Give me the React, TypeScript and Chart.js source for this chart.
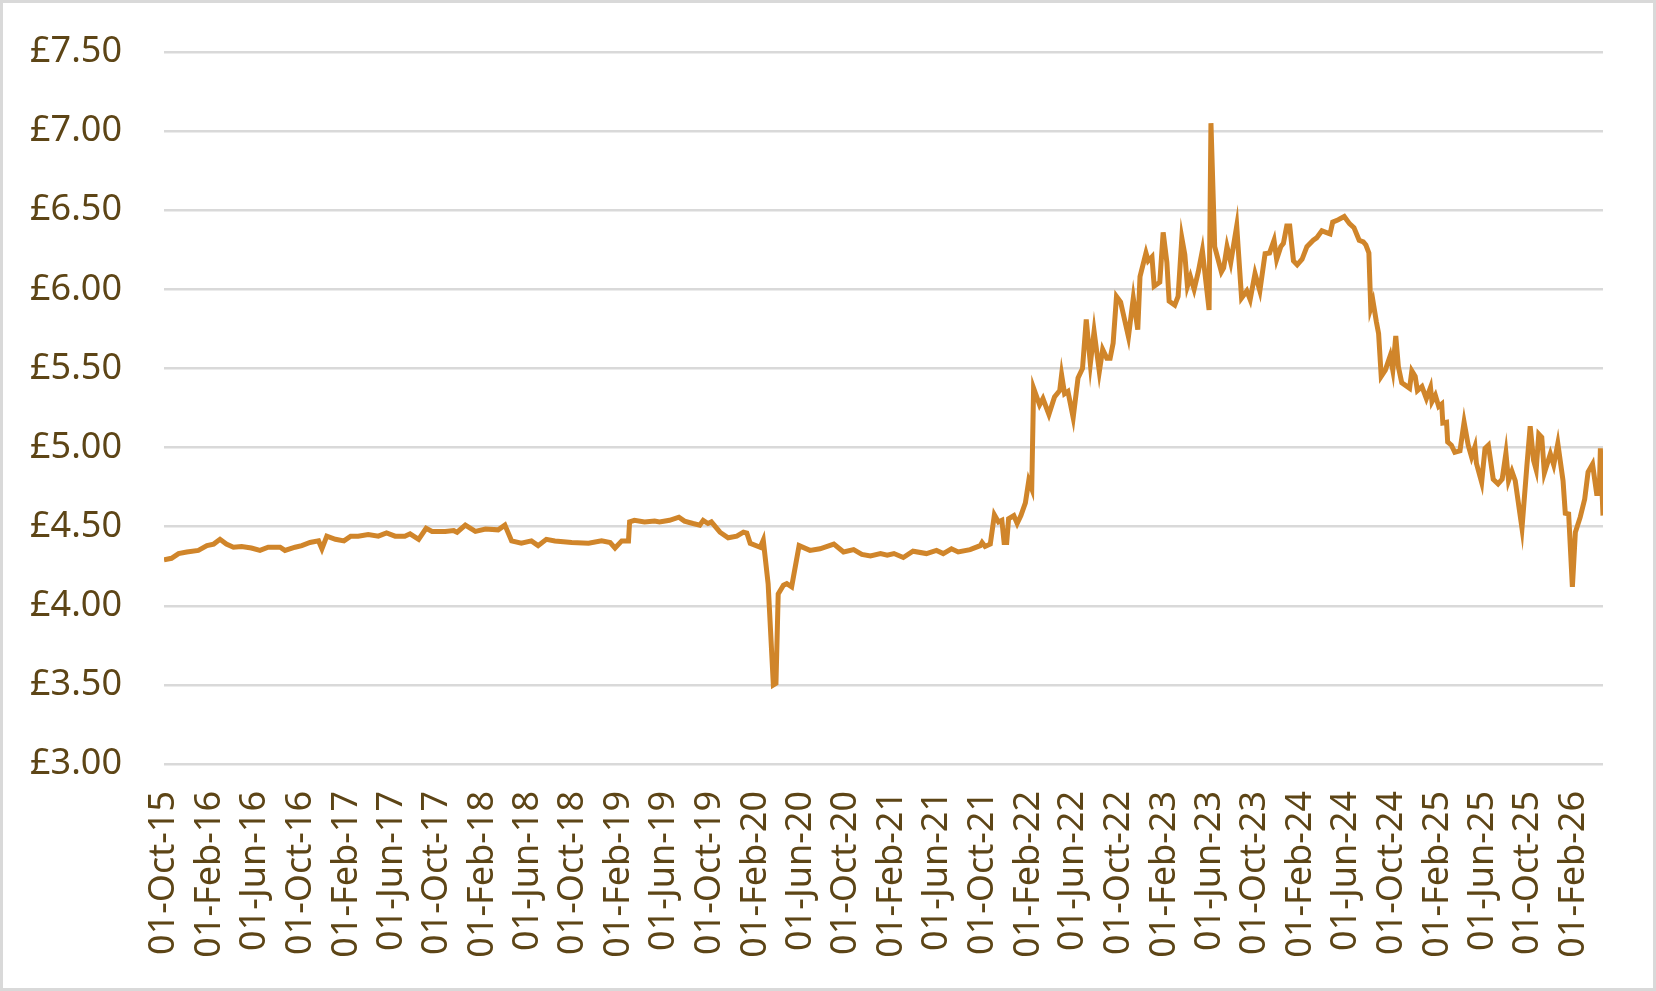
import React, { useEffect, useRef } from "react";
import Chart from "chart.js/auto";

// weekly-ish price readings (date, £)
const dates = [
  "2015-10-01", "2015-10-21", "2015-11-09", "2015-12-01",
  "2016-01-01", "2016-01-24", "2016-02-11", "2016-02-28", "2016-03-16", "2016-04-04", "2016-04-26", "2016-05-22", "2016-06-14",
  "2016-07-06", "2016-08-07", "2016-08-20", "2016-09-16", "2016-10-04", "2016-10-26", "2016-11-18", "2016-11-27", "2016-12-10",
  "2017-01-02", "2017-01-25", "2017-02-12", "2017-03-04", "2017-03-31", "2017-04-27", "2017-05-19", "2017-06-11", "2017-07-07",
  "2017-07-21", "2017-08-13", "2017-09-02", "2017-09-18", "2017-10-23", "2017-11-15", "2017-11-24", "2017-12-16",
  "2018-01-12", "2018-02-08", "2018-03-14", "2018-04-01", "2018-04-19", "2018-05-15", "2018-06-11", "2018-06-29", "2018-07-21",
  "2018-08-13", "2018-09-27", "2018-11-11", "2018-12-16",
  "2019-01-08", "2019-01-21", "2019-02-08", "2019-02-26", "2019-03-01", "2019-03-14", "2019-04-10", "2019-05-07", "2019-05-20",
  "2019-06-16", "2019-07-11", "2019-07-26", "2019-08-18", "2019-09-05", "2019-09-14", "2019-09-27", "2019-10-06", "2019-10-29",
  "2019-11-20", "2019-12-13", "2019-12-31",
  "2020-01-09", "2020-01-18", "2020-02-14", "2020-02-22", "2020-03-06", "2020-03-20", "2020-03-27", "2020-04-02", "2020-04-16",
  "2020-04-25", "2020-05-08", "2020-05-28", "2020-06-26", "2020-07-23", "2020-08-29", "2020-09-24", "2020-10-21", "2020-11-12",
  "2020-12-05",
  "2021-01-01", "2021-01-19", "2021-02-06", "2021-03-03", "2021-03-29", "2021-05-04", "2021-05-31", "2021-06-18", "2021-07-10",
  "2021-07-28", "2021-08-29", "2021-09-25", "2021-09-30", "2021-10-08", "2021-10-22", "2021-11-02", "2021-11-13", "2021-11-22",
  "2021-11-28", "2021-12-05", "2021-12-10", "2021-12-24",
  "2022-01-02", "2022-01-12", "2022-01-24", "2022-02-02", "2022-02-10", "2022-02-15", "2022-03-03", "2022-03-12", "2022-03-28",
  "2022-04-12", "2022-04-26", "2022-05-01", "2022-05-09", "2022-05-18", "2022-06-01", "2022-06-14", "2022-06-26", "2022-07-06",
  "2022-07-17", "2022-07-27", "2022-08-10", "2022-08-19", "2022-08-30", "2022-09-08", "2022-09-16", "2022-09-25", "2022-10-06",
  "2022-10-27", "2022-11-09", "2022-11-21", "2022-11-27", "2022-12-13", "2022-12-19", "2022-12-29",
  "2023-01-04", "2023-01-19", "2023-01-28", "2023-02-07", "2023-02-13", "2023-02-28", "2023-03-09", "2023-03-19", "2023-03-27",
  "2023-04-03", "2023-04-11", "2023-04-21", "2023-05-02", "2023-05-13", "2023-05-31", "2023-06-05", "2023-06-15", "2023-07-03",
  "2023-07-09", "2023-07-18", "2023-07-28", "2023-08-13", "2023-08-26", "2023-09-09", "2023-09-18", "2023-10-01", "2023-10-14",
  "2023-10-28", "2023-11-09", "2023-11-21", "2023-11-28", "2023-12-09", "2023-12-16", "2023-12-25",
  "2024-01-02", "2024-01-12", "2024-01-22", "2024-02-04", "2024-02-17", "2024-03-05", "2024-03-14", "2024-03-28", "2024-04-08",
  "2024-04-19", "2024-04-26", "2024-05-11", "2024-05-27", "2024-06-10", "2024-06-22", "2024-07-06", "2024-07-17", "2024-07-24",
  "2024-08-01", "2024-08-06", "2024-08-12", "2024-08-21", "2024-08-27", "2024-09-03", "2024-09-14", "2024-09-27", "2024-10-04",
  "2024-10-12", "2024-10-19", "2024-10-28", "2024-11-09", "2024-11-18", "2024-11-24", "2024-12-03", "2024-12-09", "2024-12-21",
  "2025-01-02", "2025-01-13", "2025-01-17", "2025-01-26", "2025-02-04", "2025-02-12", "2025-02-15", "2025-02-25", "2025-02-28",
  "2025-03-10", "2025-03-19", "2025-04-02", "2025-04-13", "2025-04-24", "2025-05-03", "2025-05-12", "2025-05-16", "2025-05-30",
  "2025-06-08", "2025-06-17", "2025-06-30", "2025-07-13", "2025-07-24", "2025-08-03", "2025-08-10", "2025-08-19", "2025-08-28",
  "2025-09-15", "2025-09-28", "2025-10-07", "2025-10-16", "2025-10-23", "2025-10-30", "2025-11-07", "2025-11-14", "2025-11-30",
  "2025-12-09", "2025-12-20",
  "2026-01-03", "2026-01-09", "2026-01-18", "2026-01-28", "2026-02-05", "2026-02-18", "2026-03-02", "2026-03-11", "2026-03-23",
  "2026-04-03", "2026-04-10", "2026-04-13", "2026-04-20",
];

const prices = [
  4.29, 4.30, 4.33, 4.34,
  4.35, 4.38, 4.39, 4.42, 4.39, 4.37, 4.375, 4.365, 4.35,
  4.37, 4.37, 4.35, 4.37, 4.38, 4.40, 4.41, 4.36, 4.44,
  4.42, 4.41, 4.44, 4.44, 4.45, 4.44, 4.46, 4.44, 4.44,
  4.455, 4.42, 4.49, 4.47, 4.47, 4.475, 4.465, 4.51,
  4.47, 4.485, 4.48, 4.51, 4.41, 4.395, 4.41, 4.38, 4.42,
  4.41, 4.40, 4.395, 4.41,
  4.40, 4.365, 4.41, 4.41, 4.53, 4.54, 4.53, 4.535, 4.53,
  4.54, 4.56, 4.535, 4.52, 4.51, 4.54, 4.52, 4.53, 4.465,
  4.43, 4.44, 4.465,
  4.46, 4.395, 4.37, 4.415, 4.14, 3.50, 3.51, 4.075, 4.13,
  4.14, 4.12, 4.38, 4.35, 4.36, 4.39, 4.34, 4.355, 4.325,
  4.315,
  4.33, 4.32, 4.33, 4.305, 4.345, 4.33, 4.35, 4.33, 4.36,
  4.34, 4.355, 4.38, 4.40, 4.375, 4.39, 4.575, 4.53, 4.54,
  4.40, 4.40, 4.55, 4.57,
  4.52, 4.57, 4.65, 4.79, 4.74, 5.375, 5.27, 5.31, 5.21,
  5.32, 5.36, 5.46, 5.34, 5.355, 5.19, 5.44, 5.50, 5.81,
  5.53, 5.735, 5.48, 5.62, 5.565, 5.565, 5.66, 5.955, 5.92,
  5.70, 5.945, 5.745, 6.08, 6.23, 6.18, 6.205,
  6.02, 6.045, 6.36, 6.17, 5.925, 5.90, 5.955, 6.325, 6.22,
  6.02, 6.08, 6.00, 6.11, 6.245, 5.87, 7.05, 6.27, 6.11,
  6.135, 6.27, 6.17, 6.40, 5.945, 5.99, 5.935, 6.10, 5.99,
  6.225, 6.23, 6.31, 6.19, 6.27, 6.29, 6.40,
  6.40, 6.18, 6.155, 6.19, 6.27, 6.31, 6.325, 6.37, 6.36,
  6.35, 6.425, 6.44, 6.46, 6.415, 6.39, 6.31, 6.30, 6.28,
  6.23, 5.88, 5.925, 5.795, 5.72, 5.45, 5.49, 5.58, 5.49,
  5.705, 5.51, 5.41, 5.39, 5.375, 5.485, 5.45, 5.36, 5.385,
  5.31, 5.38, 5.29, 5.33, 5.26, 5.275, 5.155, 5.16, 5.035,
  5.015, 4.97, 4.98, 5.16, 5.015, 4.94, 5.005, 4.90, 4.78,
  4.995, 5.015, 4.80, 4.77, 4.80, 4.965, 4.79, 4.85, 4.79,
  4.49, 4.88, 5.135, 4.92, 4.86, 5.085, 5.065, 4.84, 4.96,
  4.89, 5.025,
  4.79, 4.585, 4.58, 4.12, 4.465, 4.56, 4.675, 4.845, 4.895,
  4.71, 4.71, 4.995, 4.57,
];

const tickLabels = [
  "01-Oct-15", "01-Feb-16", "01-Jun-16", "01-Oct-16", "01-Feb-17", "01-Jun-17", "01-Oct-17", "01-Feb-18",
  "01-Jun-18", "01-Oct-18", "01-Feb-19", "01-Jun-19", "01-Oct-19", "01-Feb-20", "01-Jun-20", "01-Oct-20",
  "01-Feb-21", "01-Jun-21", "01-Oct-21", "01-Feb-22", "01-Jun-22", "01-Oct-22", "01-Feb-23", "01-Jun-23",
  "01-Oct-23", "01-Feb-24", "01-Jun-24", "01-Oct-24", "01-Feb-25", "01-Jun-25", "01-Oct-25", "01-Feb-26",
];

const yMin = 3;
const yMax = 7.5;
const yStep = 0.5;

const MONTHS = ["Jan", "Feb", "Mar", "Apr", "May", "Jun", "Jul", "Aug", "Sep", "Oct", "Nov", "Dec"];
const toTime = (s: string) => Date.parse(s + "T00:00:00Z");
const labelToTime = (s: string) => {
  const [d, m, y] = s.split("-");
  return Date.UTC(2000 + Number(y), MONTHS.indexOf(m), Number(d));
};

const TEXT = "#5D4516";
const LINE = "#D0852A";
const GRID = "#D9D9D9";

const App = () => {
  const chartRef = useRef<HTMLCanvasElement>(null);

  useEffect(() => {
    if (!chartRef.current) return;
    Chart.defaults.font.family = "'Noto Sans', sans-serif";
    const tickValues = tickLabels.map(labelToTime);
    const font = { size: 36 };

    const chart = new Chart(chartRef.current, {
      type: "line",
      data: {
        datasets: [{
          data: dates.map((d, i) => ({ x: toTime(d), y: prices[i] })),
          borderColor: LINE,
          borderWidth: 5,
          pointRadius: 0,
          tension: 0,
          fill: false,
        }],
      },
      options: {
        animation: false,
        responsive: true,
        maintainAspectRatio: false,
        layout: { padding: { top: 52, right: 53, left: 0, bottom: 0 } },
        plugins: { legend: { display: false }, tooltip: { enabled: false } },
        scales: {
          x: {
            type: "linear",
            min: toTime(dates[0]),
            max: toTime(dates[dates.length - 1]),
            afterBuildTicks: (axis: any) => {
              axis.ticks = tickValues.map((v) => ({ value: v }));
            },
            afterFit: (axis: any) => {
              axis.height = 227;
              axis.paddingLeft = 0;
              axis.paddingRight = 0;
            },
            grid: { display: false, drawTicks: false },
            border: { display: false },
            ticks: {
              autoSkip: false,
              maxRotation: 90,
              minRotation: 90,
              padding: 27,
              color: TEXT,
              font,
              callback: (_v: any, i: number) => tickLabels[i],
            },
          },
          y: {
            min: yMin,
            max: yMax,
            afterFit: (axis: any) => {
              axis.width = 164;
              axis.paddingTop = 0;
              axis.paddingBottom = 0;
            },
            grid: { color: GRID, lineWidth: 2.5, drawTicks: false },
            border: { display: false },
            ticks: {
              stepSize: yStep,
              padding: 42,
              color: TEXT,
              font,
              callback: (v: any) => "£" + Number(v).toFixed(2),
            },
          },
        },
      },
    });

    return () => {
      chart.destroy();
    };
  }, []);

  return (
    <div style={{ position: "absolute", left: 0, top: 0, width: 1656, height: 991, background: "#fff" }}>
      <canvas ref={chartRef}></canvas>
      <div style={{ position: "absolute", inset: 0, border: `3px solid ${GRID}`, boxSizing: "border-box", pointerEvents: "none" }} />
    </div>
  );
};

export default App;
